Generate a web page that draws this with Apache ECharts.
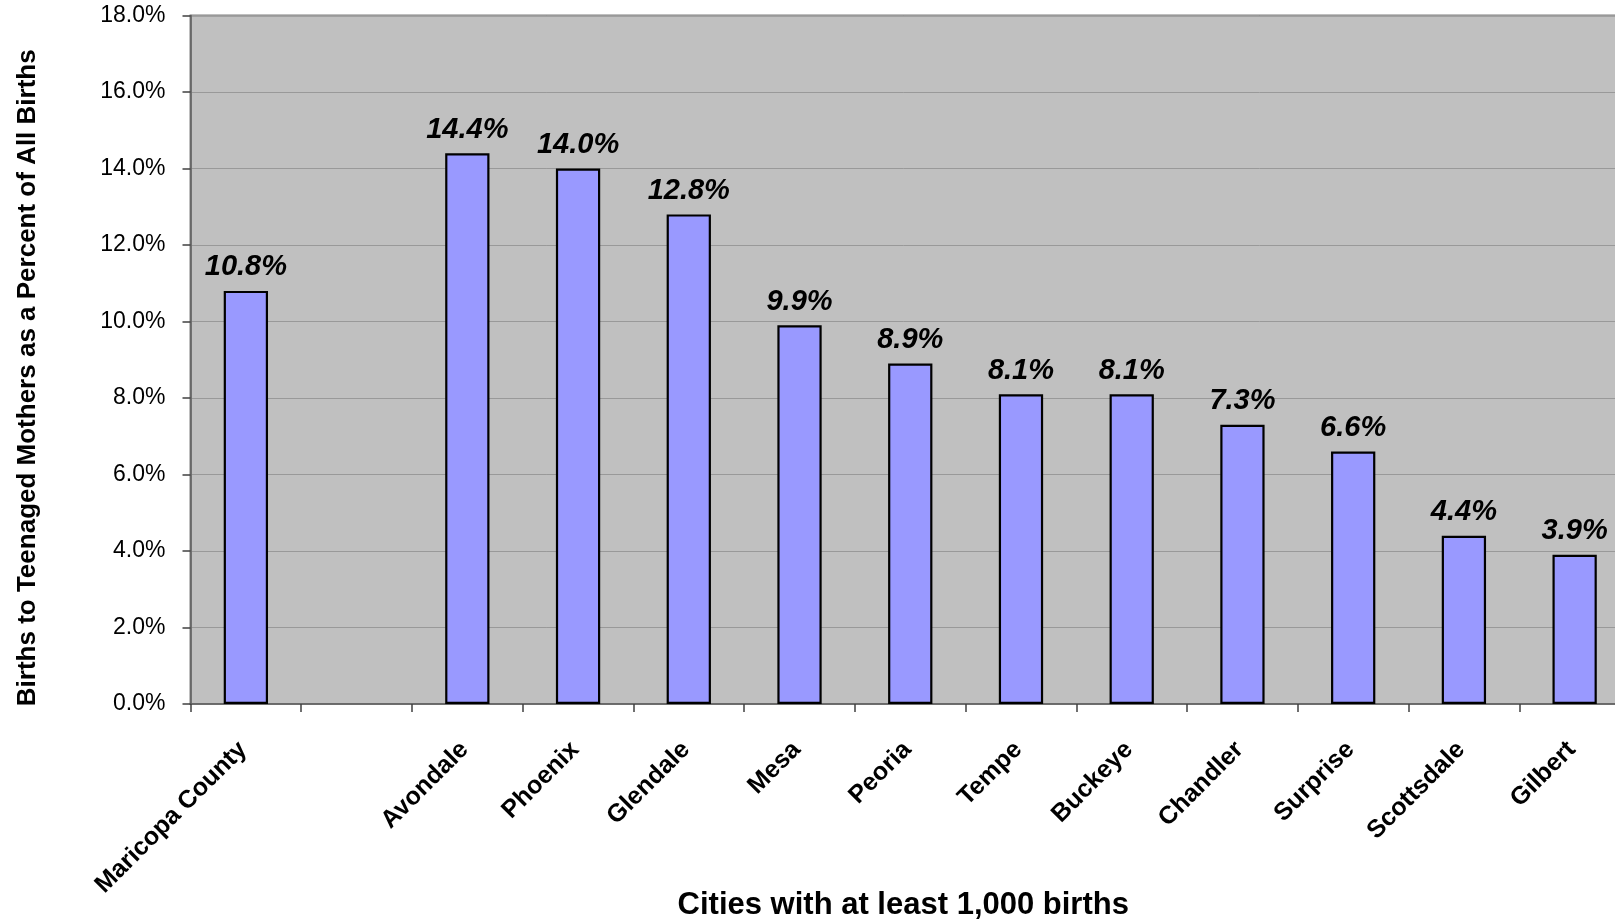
<!DOCTYPE html>
<html>
<head>
<meta charset="utf-8">
<script src="https://cdn.jsdelivr.net/npm/echarts@6/dist/echarts.min.js"></script>
<style>
html,body{margin:0;padding:0;background:#fff;}
#chart{width:1615px;height:919px;}
</style>
</head>
<body>
<div id="chart"></div>
<script>
const categories = ['Maricopa County', '', 'Avondale', 'Phoenix', 'Glendale', 'Mesa', 'Peoria', 'Tempe', 'Buckeye', 'Chandler', 'Surprise', 'Scottsdale', 'Gilbert'];
const teenBirthPct = [10.8, null, 14.4, 14.0, 12.8, 9.9, 8.9, 8.1, 8.1, 7.3, 6.6, 4.4, 3.9];
const yTitle = 'Births to Teenaged Mothers as a Percent of All Births';
const xTitle = 'Cities with at least 1,000 births';

const FONT = '"Liberation Sans", Arial, sans-serif';
const chart = echarts.init(document.getElementById('chart'), null, {renderer: 'canvas'});
chart.setOption({
  animation: false,
  backgroundColor: '#ffffff',
  grid: {
    left: 190.5, top: 15.5, width: 1439.5, height: 688.5,
    containLabel: false, outerBoundsMode: 'none',
    show: true, backgroundColor: '#c0c0c0', borderColor: '#808080', borderWidth: 2
  },
  xAxis: {
    type: 'category',
    data: categories,
    boundaryGap: true,
    name: xTitle,
    nameLocation: 'middle',
    nameGap: 186,
    nameMoveOverlap: false,
    nameTextStyle: {fontFamily: FONT, fontSize: 31, fontWeight: 'bold', color: '#000', padding: [0, 14, 0, 0]},
    axisLine: {lineStyle: {color: '#606060', width: 1.5}},
    axisTick: {show: true, length: 8, alignWithLabel: false, interval: 0, lineStyle: {color: '#404040', width: 1.5}},
    axisLabel: {interval: 0, rotate: 45, margin: 39, fontFamily: FONT, fontSize: 25, fontWeight: 'bold', color: '#000', padding: [0, 4, 0, 0]},
    splitLine: {show: false}
  },
  yAxis: {
    type: 'value',
    min: 0, max: 18, interval: 2,
    name: yTitle,
    nameLocation: 'middle',
    nameGap: 150,
    nameMoveOverlap: false,
    nameTextStyle: {fontFamily: FONT, fontSize: 26, fontWeight: 'bold', color: '#000', padding: [0, 36, 0, 0]},
    axisLine: {show: true, lineStyle: {color: '#606060', width: 1.5}},
    axisTick: {show: true, length: 8, lineStyle: {color: '#404040', width: 1.5}},
    axisLabel: {margin: 25, fontFamily: FONT, fontSize: 23, color: '#000', formatter: v => v.toFixed(1) + '%'},
    splitLine: {show: true, lineStyle: {color: '#999999', width: 1}}
  },
  series: [{
    type: 'bar',
    data: teenBirthPct,
    barWidth: '40%',
    itemStyle: {color: '#9999ff', borderColor: '#000000', borderWidth: 2.2},
    label: {
      show: true, position: 'top', distance: 9,
      fontFamily: FONT, fontSize: 29, fontWeight: 'bold', fontStyle: 'italic', color: '#000',
      formatter: p => (p.value == null ? '' : p.value.toFixed(1) + '%')
    }
  }]
});
</script>
</body>
</html>
